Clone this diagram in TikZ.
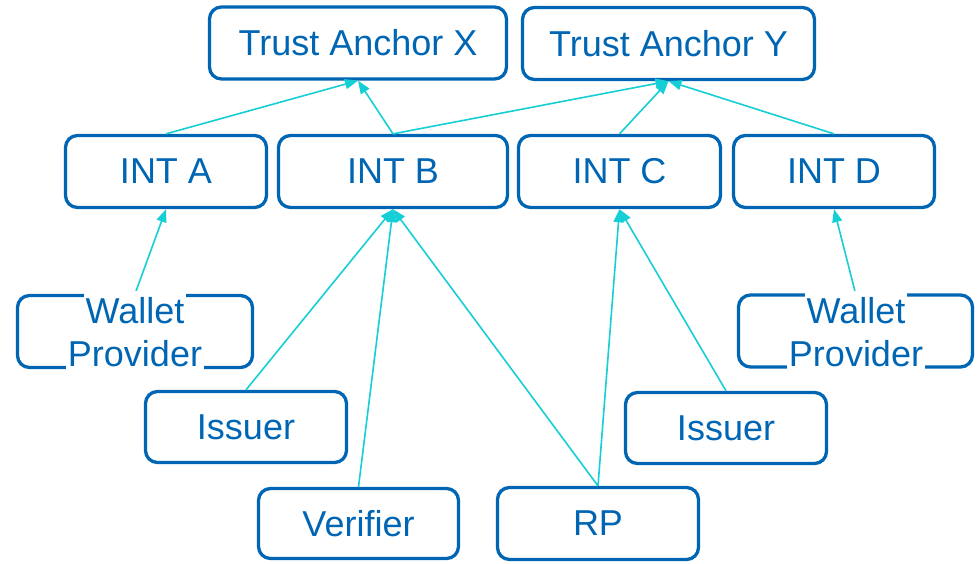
\documentclass[tikz,border=0pt]{standalone}
\usepackage{fontspec}
\setmainfont{Liberation Sans}
\usetikzlibrary{arrows.meta}
\definecolor{boxblue}{RGB}{0,102,179}
\definecolor{linkcyan}{RGB}{22,206,214}
\begin{document}
\begin{tikzpicture}[x=1pt,y=-1pt,
  entity/.style={draw=boxblue, line width=3.3pt, rounded corners=12pt,
    text=boxblue, inner sep=0pt, minimum height=72pt,
    font=\fontsize{36}{43}\selectfont},
  label/.style={fill=white, text=boxblue, inner xsep=2pt, inner ysep=6pt,
    anchor=base, font=\fontsize{36}{43}\selectfont},
  link/.style={draw=linkcyan, line width=1.6pt,
    -{Triangle[length=13pt,width=10pt]}}]
\useasboundingbox (0,0) rectangle (979,563);

% trust anchors
\node[entity, minimum width=297pt] (tax) at (358,43) {Trust Anchor X};
\node[entity, minimum width=292pt] (tay) at (668.5,43.5) {Trust Anchor Y};

% intermediates
\node[entity, minimum width=201pt] (inta) at (166,171.5) {INT A};
\node[entity, minimum width=229pt] (intb) at (393,171.5) {INT B};
\node[entity, minimum width=202pt] (intc) at (619.5,171.5) {INT C};
\node[entity, minimum width=201pt] (intd) at (834,171.5) {INT D};

% leaf entities
\node[entity, minimum width=235pt] (wpl) at (135,331.5) {};
\node[entity, minimum width=234pt] (wpr) at (855.5,331) {};
\node[entity, minimum width=201pt, minimum height=71pt] (isl) at (246,427) {Issuer};
\node[entity, minimum width=200pt, minimum height=70pt] (ver) at (358.5,523.5) {Verifier};
\node[entity, minimum width=201pt, minimum height=71pt] (isr) at (726,428) {Issuer};
\node[entity, minimum width=201pt] (rp) at (598,523.5) {RP};

% certification links
\draw[link] (inta.north) -- (tax.south);
\draw[link] (intb.north) -- (tax.south);
\draw[link] (intb.north) -- (tay.south);
\draw[link] (intc.north) -- (tay.south);
\draw[link] (intd.north) -- (tay.south);
\draw[link] (wpl.north) -- (inta.south);
\draw[link] (isl.north) -- (intb.south);
\draw[link] (ver.north) -- (intb.south);
\draw[link] (rp.north) -- (intb.south);
\draw[link] (rp.north) -- (intc.south);
\draw[link] (isr.north) -- (intc.south);
\draw[link] (wpr.north) -- (intd.south);

% wallet provider labels, set over the box outline
\node[label] (wpl1) at (135,323) {Wallet};
\node[label] (wpl2) at (135,366) {Provider};
\node[label] (wpr1) at (856,323) {Wallet};
\node[label] (wpr2) at (856,366) {Provider};
\end{tikzpicture}
\end{document}
